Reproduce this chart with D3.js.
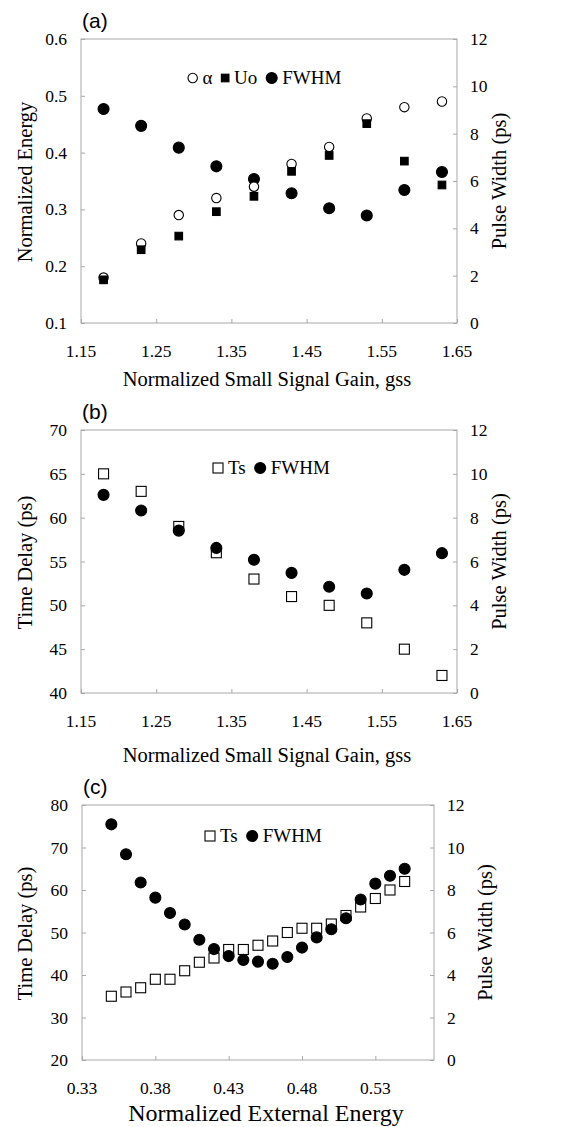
<!DOCTYPE html>
<html>
<head>
<meta charset="utf-8">
<script src="https://cdn.jsdelivr.net/npm/d3@7"></script>
<style>
  body { margin: 0; background: #fff; }
</style>
</head>
<body>
<div id="chart"></div>
<script>
// gain values for panels (a) and (b)
const gss = [1.18, 1.23, 1.28, 1.33, 1.38, 1.43, 1.48, 1.53, 1.58, 1.63];
const alphaVals = [0.18, 0.24, 0.29, 0.32, 0.34, 0.38, 0.41, 0.46, 0.48, 0.49];
const uoVals = [0.176, 0.229, 0.253, 0.296, 0.323, 0.367, 0.395, 0.451, 0.385, 0.343];
const fwhmGain = [9.04, 8.33, 7.41, 6.62, 6.08, 5.48, 4.85, 4.54, 5.62, 6.38];
const tsGain = [65, 63, 59, 56, 53, 51, 50, 48, 45, 42];

// external energy for panel (c)
const extEnergy = [0.35, 0.36, 0.37, 0.38, 0.39, 0.40, 0.41, 0.42, 0.43, 0.44, 0.45,
                   0.46, 0.47, 0.48, 0.49, 0.50, 0.51, 0.52, 0.53, 0.54, 0.55];
const tsExt = [35, 36, 37, 39, 39, 41, 43, 44, 46, 46, 47, 48, 50, 51, 51, 52, 54, 56, 58, 60, 62];
const fwhmExt = [11.09, 9.68, 8.35, 7.64, 6.92, 6.38, 5.66, 5.22, 4.89, 4.71, 4.63,
                 4.53, 4.85, 5.29, 5.77, 6.15, 6.67, 7.55, 8.30, 8.67, 9.00];

const gainTicks = [1.15, 1.25, 1.35, 1.45, 1.55, 1.65];
const energyTicks = [0.33, 0.38, 0.43, 0.48, 0.53];

const SERIF = "'Liberation Serif', 'DejaVu Serif', serif";
const SANS = "'Liberation Sans', 'DejaVu Sans', sans-serif";

const svg = d3.select("#chart").append("svg")
    .attr("width", 569)
    .attr("height", 1127)
    .attr("font-family", SERIF);

function label(g, size) {
  return g.append("text").attr("font-family", SERIF).attr("font-size", size).attr("fill", "#000");
}

function drawPanel(p) {
  const g = svg.append("g");
  const x = d3.scaleLinear().domain(p.xDomain).range([p.left, p.right]);
  const yL = d3.scaleLinear().domain(p.yLDomain).range([p.bottom, p.top]);
  const yR = d3.scaleLinear().domain([0, 12]).range([p.bottom, p.top]);

  // frame
  g.append("rect")
    .attr("x", p.left).attr("y", p.top)
    .attr("width", p.right - p.left).attr("height", p.bottom - p.top)
    .attr("fill", "none").attr("stroke", "#a8a8a8").attr("stroke-width", 1);

  // axes: inward ticks, labels placed by hand below
  g.append("g").attr("transform", `translate(0,${p.bottom})`)
    .call(d3.axisTop(x).tickValues(p.xTicks).tickSize(4).tickFormat(""));
  g.append("g").attr("transform", `translate(${p.left},0)`)
    .call(d3.axisRight(yL).ticks(6).tickSize(4).tickFormat(""));
  g.append("g").attr("transform", `translate(${p.right},0)`)
    .call(d3.axisLeft(yR).ticks(6).tickSize(4).tickFormat(""));
  g.selectAll(".domain").remove();
  g.selectAll(".tick line").attr("stroke", "#a8a8a8");

  // tick labels
  p.xTicks.forEach(d => {
    label(g, "17.5px").attr("x", x(d)).attr("y", p.bottom + 34)
      .attr("text-anchor", "middle").text(d3.format(".2f")(d));
  });
  yL.ticks(6).forEach(d => {
    label(g, "17.5px").attr("x", p.left - 14).attr("y", yL(d) + 6)
      .attr("text-anchor", "end").text(p.yLFormat(d));
  });
  yR.ticks(6).forEach(d => {
    label(g, "17.5px").attr("x", p.right + p.rLabelGap).attr("y", yR(d) + 6)
      .attr("text-anchor", "start").text(d);
  });

  // axis titles
  label(g, p.xTitleSize)
    .attr("x", (p.left + p.right) / 2 + p.xTitleShift).attr("y", p.xTitleY)
    .attr("text-anchor", "middle").text(p.xTitle);
  label(g, "20.5px")
    .attr("transform", `translate(32,${(p.top + p.bottom) / 2 + 1}) rotate(-90)`)
    .attr("text-anchor", "middle").text(p.yLTitle);
  label(g, "20.5px")
    .attr("transform", `translate(${p.rTitleX},${(p.top + p.bottom) / 2}) rotate(-90)`)
    .attr("text-anchor", "middle").text("Pulse Width (ps)");

  // panel letter
  g.append("text")
    .attr("x", p.left + 1).attr("y", p.top - 11)
    .attr("font-family", SANS).attr("font-size", "21px")
    .text(p.letter);

  // marks
  p.series.forEach(s => {
    const sc = s.axis === "right" ? yR : yL;
    const pts = p.xs.map((v, i) => ({x: v, y: s.values[i]}));
    if (s.shape === "circle") {
      g.selectAll(null).data(pts).enter().append("circle")
        .attr("cx", d => x(d.x)).attr("cy", d => sc(d.y))
        .attr("r", s.r)
        .attr("fill", s.filled ? "#000" : "#fff")
        .attr("stroke", "#000").attr("stroke-width", 1.1);
    } else {
      g.selectAll(null).data(pts).enter().append("rect")
        .attr("x", d => x(d.x) - s.r).attr("y", d => sc(d.y) - s.r)
        .attr("width", s.r * 2).attr("height", s.r * 2)
        .attr("fill", s.filled ? "#000" : "#fff")
        .attr("stroke", "#000").attr("stroke-width", 1.1);
    }
  });

  // legend
  let lx = p.legendX;
  p.series.slice().sort((a, b) => a.legendOrder - b.legendOrder).forEach(s => {
    if (s.shape === "circle") {
      g.append("circle").attr("cx", lx + s.r).attr("cy", p.legendY).attr("r", s.r)
        .attr("fill", s.filled ? "#000" : "#fff").attr("stroke", "#000").attr("stroke-width", 1.1);
    } else {
      g.append("rect").attr("x", lx).attr("y", p.legendY - s.r)
        .attr("width", s.r * 2).attr("height", s.r * 2)
        .attr("fill", s.filled ? "#000" : "#fff").attr("stroke", "#000").attr("stroke-width", 1.1);
    }
    const t = label(g, "19px").attr("x", lx + s.r * 2 + 5).attr("y", p.legendY + 6).text(s.name);
    lx += s.r * 2 + 5 + t.node().getComputedTextLength() + 9;
  });
}

drawPanel({
  letter: "(a)", left: 81, right: 457, top: 39, bottom: 323,
  xDomain: [1.15, 1.65], xTicks: gainTicks, xs: gss,
  yLDomain: [0.1, 0.6], yLFormat: d3.format(".1f"), rLabelGap: 13,
  xTitle: "Normalized Small Signal Gain, gss", xTitleY: 386, xTitleSize: "20.5px", xTitleShift: -2,
  yLTitle: "Normalized Energy", rTitleX: 506,
  legendX: 188, legendY: 78,
  series: [
    {name: "FWHM", values: fwhmGain, axis: "right", shape: "circle", filled: true, r: 5.5, legendOrder: 3},
    {name: "α", values: alphaVals, axis: "left", shape: "circle", filled: false, r: 4.7, legendOrder: 1},
    {name: "Uo", values: uoVals, axis: "left", shape: "rect", filled: true, r: 3.8, legendOrder: 2}
  ]
});

drawPanel({
  letter: "(b)", left: 81, right: 457, top: 430, bottom: 693,
  xDomain: [1.15, 1.65], xTicks: gainTicks, xs: gss,
  yLDomain: [40, 70], yLFormat: d3.format("d"), rLabelGap: 13,
  xTitle: "Normalized Small Signal Gain, gss", xTitleY: 762, xTitleSize: "20.5px", xTitleShift: -2,
  yLTitle: "Time Delay (ps)", rTitleX: 506,
  legendX: 213, legendY: 468,
  series: [
    {name: "Ts", values: tsGain, axis: "left", shape: "rect", filled: false, r: 5, legendOrder: 1},
    {name: "FWHM", values: fwhmGain, axis: "right", shape: "circle", filled: true, r: 5.5, legendOrder: 2}
  ]
});

drawPanel({
  letter: "(c)", left: 82, right: 434, top: 805, bottom: 1060,
  xDomain: [0.33, 0.57], xTicks: energyTicks, xs: extEnergy,
  yLDomain: [20, 80], yLFormat: d3.format("d"), rLabelGap: 13,
  xTitle: "Normalized External Energy", xTitleY: 1121, xTitleSize: "24px", xTitleShift: 8,
  yLTitle: "Time Delay (ps)", rTitleX: 492,
  legendX: 205, legendY: 836,
  series: [
    {name: "Ts", values: tsExt, axis: "left", shape: "rect", filled: false, r: 5, legendOrder: 1},
    {name: "FWHM", values: fwhmExt, axis: "right", shape: "circle", filled: true, r: 5.5, legendOrder: 2}
  ]
});
</script>
</body>
</html>
